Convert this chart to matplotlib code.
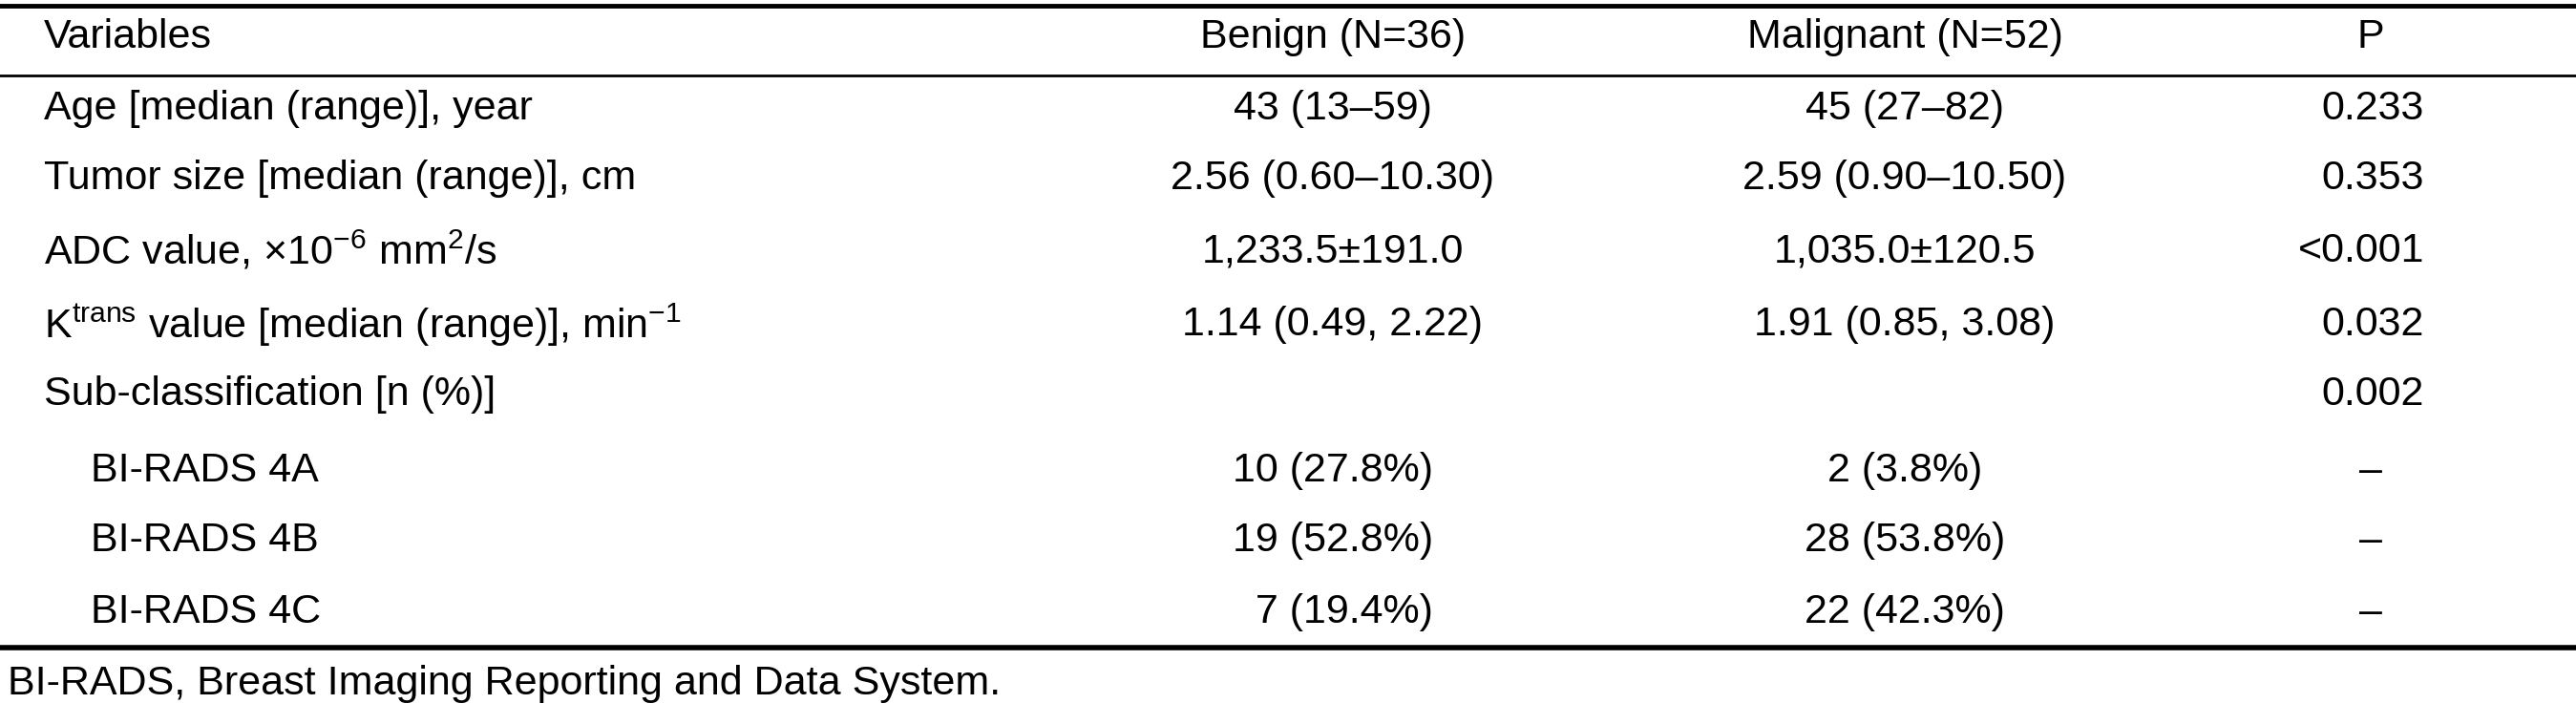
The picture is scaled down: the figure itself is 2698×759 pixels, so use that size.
import matplotlib
matplotlib.use("Agg")
from matplotlib import pyplot as plt

plt.rcParams["font.family"] = "Liberation Sans"
plt.rcParams["mathtext.fontset"] = "custom"
plt.rcParams["mathtext.rm"] = "Liberation Sans"
plt.rcParams["mathtext.it"] = "Liberation Sans:italic"

# table content
headers = ["Variables", "Benign (N=36)", "Malignant (N=52)", "P"]
variables = [
    "Age [median (range)], year",
    "Tumor size [median (range)], cm",
    "ADC value, \u00d710$^{\u2212\\mathregular{6}}$ mm$^{\\mathregular{2}}$/s",
    "K$^{\\mathregular{trans}}$ value [median (range)], min$^{\u2212\\mathregular{1}}$",
    "Sub-classification [n (%)]",
    "BI-RADS 4A",
    "BI-RADS 4B",
    "BI-RADS 4C",
]
indented = [False, False, False, False, False, True, True, True]
benign = ["43 (13\u201359)", "2.56 (0.60\u201310.30)", "1,233.5\u00b1191.0",
          "1.14 (0.49, 2.22)", "", "10 (27.8%)", "19 (52.8%)", "\u20077 (19.4%)"]
malignant = ["45 (27\u201382)", "2.59 (0.90\u201310.50)", "1,035.0\u00b1120.5",
             "1.91 (0.85, 3.08)", "", "2 (3.8%)", "28 (53.8%)", "22 (42.3%)"]
pvals = ["0.233", "0.353", "<0.001", "0.032", "0.002", "\u2013", "\u2013", "\u2013"]
footnote = "BI-RADS, Breast Imaging Reporting and Data System."

W, H = 2698, 759
fig = plt.figure(figsize=(W / 100, H / 100), dpi=100)
ax = fig.add_axes([0, 0, 1, 1])
ax.set_xlim(0, W)
ax.set_ylim(H, 0)
ax.axis("off")

FS = 31
X_VAR, X_IND, X_BEN, X_MAL, X_P, X_PC = 46, 95, 1396, 1995, 2539, 2483
row_y = [114, 187, 263, 340, 413, 493, 566, 641]

ax.axhline(6, color="black", lw=3.5)
ax.axhline(79, color="black", lw=2)
ax.axhline(678, color="black", lw=4)

ax.text(X_VAR, 39, headers[0], fontsize=FS, va="center", ha="left")
ax.text(X_BEN, 39, headers[1], fontsize=FS, va="center", ha="center")
ax.text(X_MAL, 39, headers[2], fontsize=FS, va="center", ha="center")
ax.text(X_PC, 39, headers[3], fontsize=FS, va="center", ha="center")

for i, y in enumerate(row_y):
    ax.text(X_IND if indented[i] else X_VAR, y, variables[i], fontsize=FS, va="center", ha="left")
    ax.text(X_BEN, y, benign[i], fontsize=FS, va="center", ha="center")
    ax.text(X_MAL, y, malignant[i], fontsize=FS, va="center", ha="center")
    if pvals[i] == "\u2013":
        ax.text(X_PC, y, pvals[i], fontsize=FS, va="center", ha="center")
    else:
        ax.text(X_P, y, pvals[i], fontsize=FS, va="center", ha="right")

ax.text(8, 716, footnote, fontsize=FS, va="center", ha="left")

fig.savefig("out.png", dpi=100)
